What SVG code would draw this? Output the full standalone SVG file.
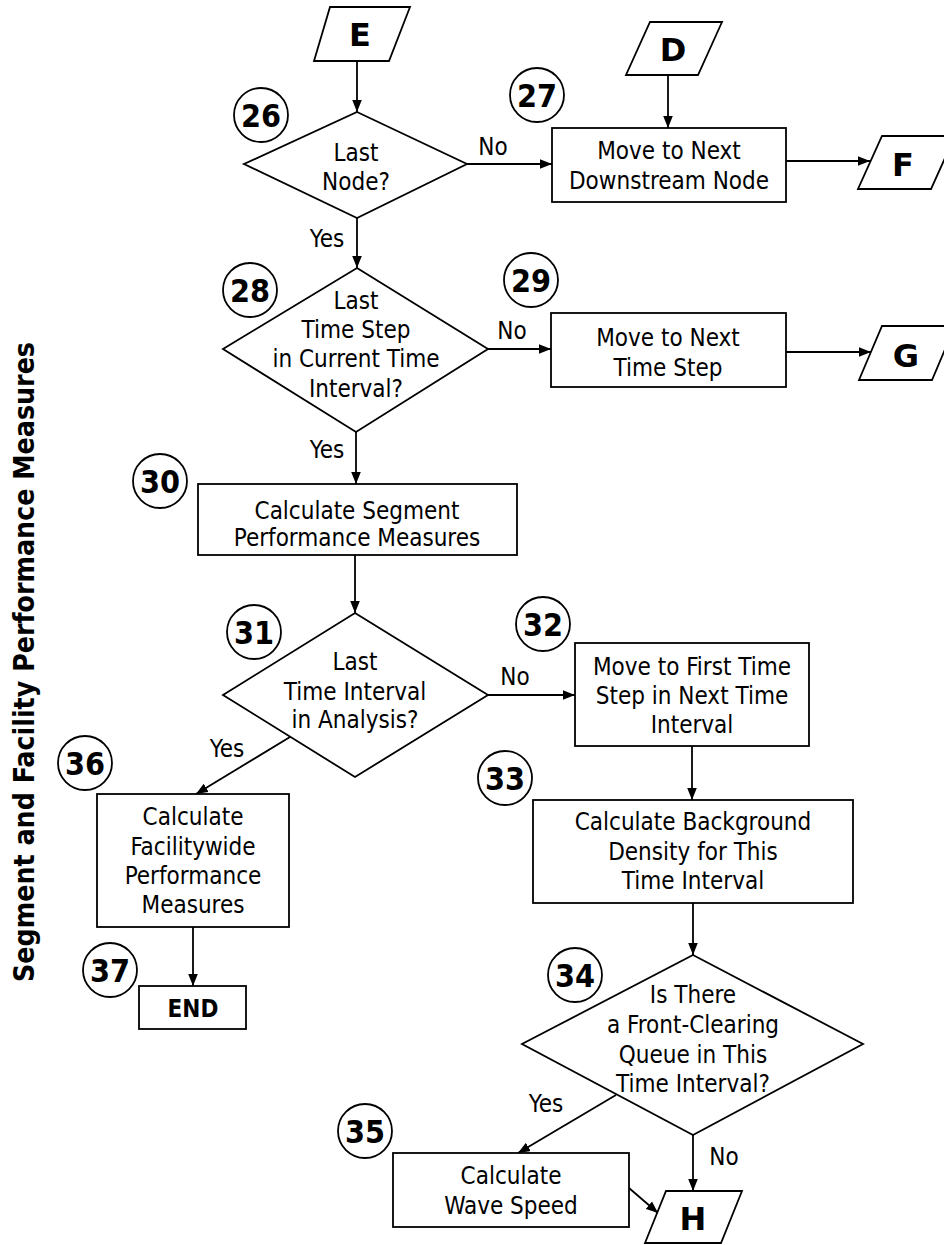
<svg xmlns="http://www.w3.org/2000/svg" width="944" height="1245" viewBox="0 0 944 1245">
<style>
.s{fill:#fff;stroke:#000;stroke-width:1.8}
.c{fill:#fff;stroke:#000;stroke-width:1.8}
.t{font-family:"DejaVu Sans Condensed","DejaVu Sans",sans-serif;font-stretch:condensed;font-size:24px;text-anchor:middle;fill:#000}
.n{font-family:"DejaVu Sans Condensed","DejaVu Sans",sans-serif;font-stretch:condensed;font-weight:bold;font-size:32px;text-anchor:middle;fill:#000}
.L{font-family:"DejaVu Sans","Liberation Sans",sans-serif;font-weight:bold;font-size:32px;text-anchor:middle;fill:#000}
.conn line{stroke:#000;stroke-width:1.8;marker-end:url(#ah)}
</style>
<defs>
<marker id="ah" viewBox="0 0 10 8" refX="10" refY="4" markerWidth="12" markerHeight="10" markerUnits="userSpaceOnUse" orient="auto"><path d="M0,0 L10,4 L0,8 Z" fill="#000"/></marker>
</defs>
<rect width="944" height="1245" fill="#fff"/>
<text x="0" y="0" transform="translate(34,662) rotate(-90)" style="font-family:'DejaVu Sans Condensed','DejaVu Sans',sans-serif;font-stretch:condensed;font-weight:bold;font-size:29px;text-anchor:middle" textLength="640" lengthAdjust="spacingAndGlyphs">Segment and Facility Performance Measures</text>
<g class="conn" id="connectors">
<line x1="357" y1="61" x2="357" y2="112"/>
<line x1="467" y1="164" x2="552" y2="164"/>
<line x1="668" y1="75" x2="668" y2="128"/>
<line x1="786" y1="161" x2="870" y2="161"/>
<line x1="357" y1="218" x2="357" y2="268"/>
<line x1="488" y1="349" x2="551" y2="349"/>
<line x1="786" y1="352" x2="871" y2="352"/>
<line x1="356" y1="432" x2="356" y2="484"/>
<line x1="355" y1="555" x2="355" y2="613"/>
<line x1="488" y1="695" x2="575" y2="695"/>
<line x1="692" y1="746" x2="692" y2="800"/>
<line x1="290" y1="737" x2="196" y2="794"/>
<line x1="193" y1="927" x2="193" y2="986"/>
<line x1="693" y1="903" x2="693" y2="955"/>
<line x1="616" y1="1095" x2="518" y2="1153"/>
<line x1="693" y1="1135" x2="693" y2="1191"/>
<line x1="629" y1="1188" x2="658" y2="1213"/>
<text class="t" x="493" y="155">No</text>
<text class="t" x="327" y="247">Yes</text>
<text class="t" x="512" y="339">No</text>
<text class="t" x="327" y="458">Yes</text>
<text class="t" x="515" y="685">No</text>
<text class="t" x="227" y="757">Yes</text>
<text class="t" x="546" y="1112">Yes</text>
<text class="t" x="724" y="1165">No</text>
</g>
<g id="E"><path class="s" d="M330,7 L410,7 L389,61 L314,61 Z"/><text class="L" x="360" y="46">E</text></g>
<g id="D"><path class="s" d="M650,22 L722,22 L698,75 L626,75 Z"/><text class="L" x="673" y="61">D</text></g>
<g id="F"><path class="s" d="M882,136 L955,136 L931,189 L858,189 Z"/><text class="L" x="903" y="176">F</text></g>
<g id="G"><path class="s" d="M882,326 L955,326 L932,380 L859,380 Z"/><text class="L" x="906" y="367">G</text></g>
<g id="H"><path class="s" d="M666,1191 L742,1191 L721,1243 L645,1243 Z"/><text class="L" x="693" y="1230">H</text></g>
<g id="n26"><circle class="c" cx="261" cy="115" r="27"/><text class="n" x="261" y="127">26</text>
<path class="s" d="M357,112 L467,164 L357,218 L244,164 Z"/><text class="t" x="356" y="161">Last</text><text class="t" x="356" y="190">Node?</text></g>
<g id="n27"><circle class="c" cx="537" cy="95" r="27"/><text class="n" x="537" y="107">27</text>
<rect class="s" x="552" y="128" width="234" height="74"/><text class="t" x="669" y="159">Move to Next</text><text class="t" x="669" y="189">Downstream Node</text></g>
<g id="n28"><circle class="c" cx="250" cy="290" r="27"/><text class="n" x="250" y="302">28</text>
<path class="s" d="M357,268 L488,349 L356,432 L223,349 Z"/><text class="t" x="356" y="309">Last</text><text class="t" x="356" y="338">Time Step</text><text class="t" x="356" y="367">in Current Time</text><text class="t" x="356" y="397">Interval?</text></g>
<g id="n29"><circle class="c" cx="531" cy="280" r="27"/><text class="n" x="531" y="292">29</text>
<rect class="s" x="551" y="313" width="235" height="74"/><text class="t" x="668" y="346">Move to Next</text><text class="t" x="668" y="376">Time Step</text></g>
<g id="n30"><circle class="c" cx="160" cy="481" r="27"/><text class="n" x="160" y="493">30</text>
<rect class="s" x="198" y="484" width="319" height="71"/><text class="t" x="357" y="519">Calculate Segment</text><text class="t" x="357" y="546">Performance Measures</text></g>
<g id="n31"><circle class="c" cx="254" cy="632" r="27"/><text class="n" x="254" y="644">31</text>
<path class="s" d="M355,613 L488,695 L355,777 L223,695 Z"/><text class="t" x="355" y="670">Last</text><text class="t" x="355" y="700">Time Interval</text><text class="t" x="355" y="728">in Analysis?</text></g>
<g id="n32"><circle class="c" cx="543" cy="624" r="27"/><text class="n" x="543" y="636">32</text>
<rect class="s" x="575" y="643" width="234" height="103"/><text class="t" x="692" y="675">Move to First Time</text><text class="t" x="692" y="704">Step in Next Time</text><text class="t" x="692" y="733">Interval</text></g>
<g id="n33"><circle class="c" cx="505" cy="778" r="27"/><text class="n" x="505" y="790">33</text>
<rect class="s" x="533" y="800" width="320" height="103"/><text class="t" x="693" y="830">Calculate Background</text><text class="t" x="693" y="860">Density for This</text><text class="t" x="693" y="889">Time Interval</text></g>
<g id="n34"><circle class="c" cx="575" cy="975" r="27"/><text class="n" x="575" y="987">34</text>
<path class="s" d="M693,955 L863,1044 L693,1135 L522,1044 Z"/><text class="t" x="693" y="1003">Is There</text><text class="t" x="693" y="1033">a Front-Clearing</text><text class="t" x="693" y="1063">Queue in This</text><text class="t" x="693" y="1092">Time Interval?</text></g>
<g id="n35"><circle class="c" cx="365" cy="1131" r="27"/><text class="n" x="365" y="1143">35</text>
<rect class="s" x="393" y="1153" width="236" height="74"/><text class="t" x="511" y="1184">Calculate</text><text class="t" x="511" y="1214">Wave Speed</text></g>
<g id="n36"><circle class="c" cx="85" cy="763" r="27"/><text class="n" x="85" y="775">36</text>
<rect class="s" x="97" y="794" width="192" height="133"/><text class="t" x="193" y="825">Calculate</text><text class="t" x="193" y="855">Facilitywide</text><text class="t" x="193" y="884">Performance</text><text class="t" x="193" y="913">Measures</text></g>
<g id="n37"><circle class="c" cx="110" cy="970" r="27"/><text class="n" x="110" y="982">37</text>
<rect class="s" x="139" y="986" width="107" height="43"/><text class="n" x="193" y="1017" style="font-size:24px">END</text></g>
</svg>
